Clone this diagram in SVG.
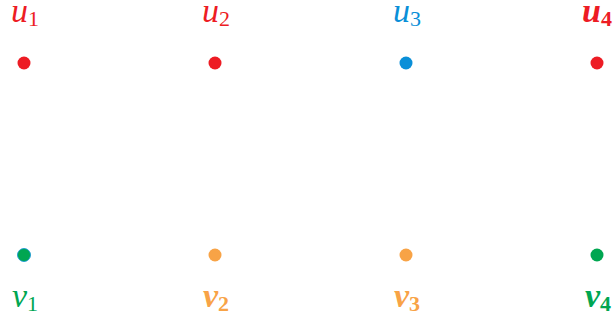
<svg xmlns="http://www.w3.org/2000/svg" width="614" height="322" viewBox="0 0 614 322">
<style>
.lbl{font-family:"Liberation Serif","DejaVu Serif",serif;font-style:italic;font-size:34px;text-anchor:middle}
.b{font-weight:bold}
.sub{font-style:normal;font-size:22px}
.red{fill:#ED1C24}.blue{fill:#0A8FD8}.green{fill:#00A651}.orange{fill:#F8A346}
</style>
<rect width="614" height="322" fill="#fff"/>
<g id="connectors"/>
<g id="u1"><circle cx="24" cy="63" r="6.5" class="red"/><text x="25" y="22" class="lbl red">u<tspan class="sub" dy="4">1</tspan></text></g>
<g id="u2"><circle cx="215" cy="63" r="6.5" class="red"/><text x="216" y="22" class="lbl red">u<tspan class="sub" dy="4">2</tspan></text></g>
<g id="u3"><circle cx="406" cy="63" r="6.5" class="blue"/><text x="407" y="22" class="lbl blue">u<tspan class="sub" dy="4">3</tspan></text></g>
<g id="u4"><circle cx="597" cy="63" r="6.5" class="red"/><text x="597" y="22" class="lbl b red">u<tspan class="sub" dy="4">4</tspan></text></g>
<g id="v1"><circle cx="24" cy="255" r="6.5" class="green" stroke="#0A8FD8" stroke-width="0.8"/><text x="25" y="307" class="lbl green">v<tspan class="sub" dy="4">1</tspan></text></g>
<g id="v2"><circle cx="215" cy="255" r="6.5" class="orange"/><text x="216" y="307" class="lbl b orange">v<tspan class="sub" dy="4">2</tspan></text></g>
<g id="v3"><circle cx="406" cy="255" r="6.5" class="orange"/><text x="407" y="307" class="lbl b orange">v<tspan class="sub" dy="4">3</tspan></text></g>
<g id="v4"><circle cx="597" cy="255" r="6.5" class="green"/><text x="598" y="307" class="lbl b green">v<tspan class="sub" dy="4">4</tspan></text></g>
</svg>
